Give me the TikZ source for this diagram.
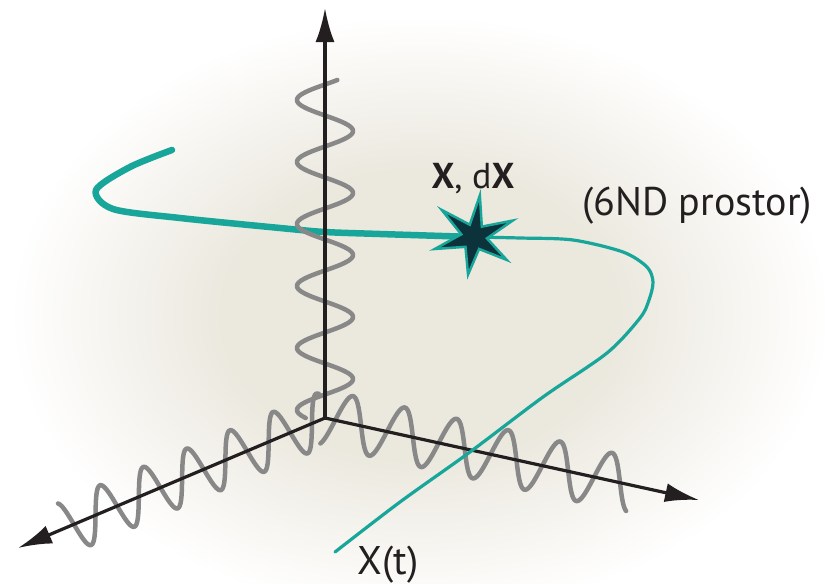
\documentclass[tikz,border=0pt]{standalone}
\usepackage{fontspec}
\setmainfont{PT Sans}
\usetikzlibrary{arrows.meta}

\definecolor{inkblack}{RGB}{35,31,32}
\definecolor{wavegray}{RGB}{136,136,136}
\definecolor{pathteal}{RGB}{24,166,154}
\definecolor{stardark}{RGB}{12,50,60}
\definecolor{glowbeige}{RGB}{235,232,222}

\pgfdeclareradialshading{glow}{\pgfpoint{0bp}{0bp}}{color(0bp)=(glowbeige); color(12bp)=(glowbeige); color(25bp)=(white); color(50bp)=(white)}

\tikzset{
  axis/.style={inkblack, line width=3.2pt, -{Latex[length=34pt,width=19pt]}},
  wave/.style={wavegray, line width=4.5pt},
  trajthick/.style={pathteal, line width=6.5pt},
  trajthin/.style={pathteal, line width=3.2pt},
  starshape/.style={fill=stardark, draw=pathteal, line width=2.5pt, line join=miter},
  lbl/.style={font=\fontsize{40}{44}\selectfont, text=inkblack, inner sep=0pt, anchor=base},
}

\begin{document}
\begin{tikzpicture}[line cap=round, line join=round, x=1pt, y=-1pt]
  % Frame and origin
  \def\ox{325} \def\oy{418}
  \useasboundingbox (0,0) rectangle (836,584);

  % Background glow
  \begin{scope}
    \clip (0,0) rectangle (836,584);
    \fill[white] (0,0) rectangle (836,584);
    \shade[shading=glow] (420,315) ellipse (410 and 300);
  \end{scope}

  % Named points
  \coordinate (O) at (\ox,\oy);
  \coordinate (ztip) at (325,8);
  \coordinate (xtip) at (18,548);
  \coordinate (ytip) at (699,500);
  \coordinate (star) at (474,237);

  % Trajectory, back part
  \draw[trajthick] plot[smooth] coordinates {(172,150) (130,167) (96,190) (113,209) (180,218) (280,228) (325,232) (380,234) (star)};

  % Waves along the axes
  \draw[wave] plot[domain=0:338, samples=300]
    ({\ox - 28*cos((\x-318)/62*360)}, {\oy - \x});
  \draw[wave] plot[domain=0:283, samples=300]
    ({\ox - 0.921*(\x + 7*cos((\x-49.4)/47*360))}, {\oy + 0.390*(\x + 7*cos((\x-49.4)/47*360)) - 28*cos((\x-49.4)/47*360)});
  \draw[wave] plot[domain=0:313, samples=300]
    ({\ox + 0.977*(\x + 5*cos((\x-23.7)/53*360))}, {\oy + 0.214*(\x + 5*cos((\x-23.7)/53*360)) - 28*cos((\x-23.7)/53*360)});

  % Axes
  \draw[axis] (O) -- (ztip);
  \draw[axis] (O) -- (xtip);
  \draw[axis] (O) -- (ytip);

  % Trajectory, front part
  \draw[trajthin] plot[smooth] coordinates {(star) (520,238) (573,240) (623,252) (647,267) (653,282) (649,300) (640,318) (607,353) (543,397) (470,452) (400,502) (335,552)};

  % Phase point
  \begin{scope}[shift={(star)}]
    \filldraw[starshape] (-82:42) -- (-53:13) -- (-23:42) -- (6:13) -- (35:40) -- (67:13)
      -- (99:38) -- (131:13) -- (163:41) -- (192:13) -- (220:42) -- (251:13) -- cycle;
  \end{scope}

  % Labels
  \node[lbl, font=\fontsize{36}{40}\selectfont] (pointlabel) at (473,188) {\textbf{X}, d\textbf{X}};
  \node[lbl] (spacelabel) at (697,215) {(6ND prostor)};
  \node[lbl] (curvelabel) at (388,574) {X(t)};
\end{tikzpicture}
\end{document}
